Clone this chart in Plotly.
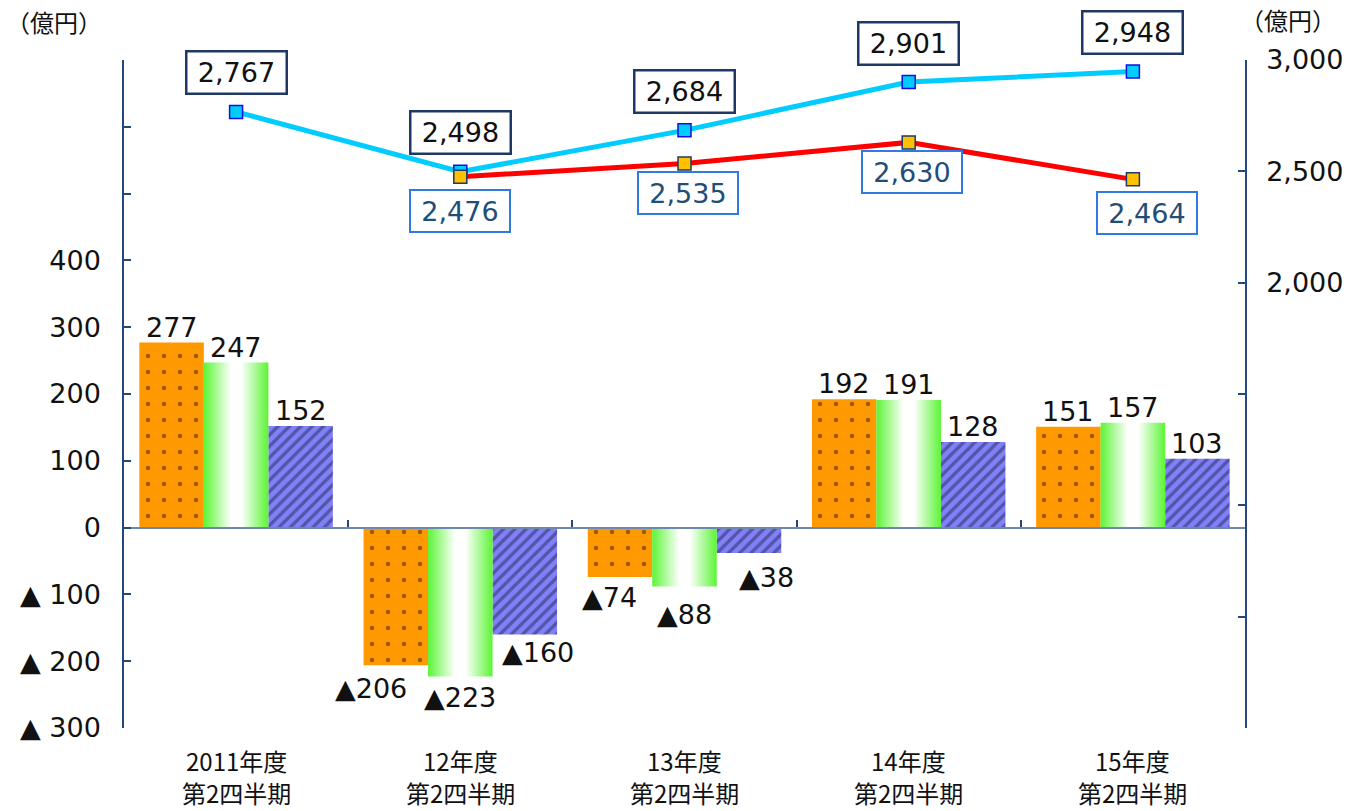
import plotly.graph_objects as go

# ---- data ----
cat_year = ["2011年度", "12年度", "13年度", "14年度", "15年度"]
cat_period = ["第2四半期", "第2四半期", "第2四半期", "第2四半期", "第2四半期"]
bar_orange = [277, -206, -74, 192, 151]
bar_green = [247, -223, -88, 191, 157]
bar_blue = [152, -160, -38, 128, 103]
line_cyan = [2767, 2498, 2684, 2901, 2948]
line_red = [None, 2476, 2535, 2630, 2464]

left_ticks = [-300, -200, -100, 0, 100, 200, 300, 400, 500, 600, 700]
left_ticktext = ["▲ 300", "▲ 200", "▲ 100", "0", "100", "200", "300", "400", "", "", ""]
right_ticks = [0, 500, 1000, 1500, 2000, 2500, 3000]
right_ticktext = ["", "", "", "", "2,000", "2,500", "3,000"]
unit_label = "（億円）"

# ---- style ----
NUM_FONT = "DejaVu Sans, Noto Sans CJK JP"
JP_FONT = "Noto Sans CJK JP, DejaVu Sans"
AXIS_COLOR = "#24487a"
W = 0.2877
xs = list(range(len(cat_year)))

fig = go.Figure()

# orange dotted bars
fig.add_trace(go.Bar(
    x=xs, y=bar_orange, width=W, offset=-1.5 * W,
    marker=dict(color="#ff9900", line=dict(width=0),
                pattern=dict(shape=".", size=16, solidity=0.06,
                             fgcolor="#2a1a05", bgcolor="#ff9900")),
    showlegend=False, hoverinfo="x+y"))

# blue hatched bars
fig.add_trace(go.Bar(
    x=xs, y=bar_blue, width=W, offset=0.5 * W,
    marker=dict(color="#8080f7", line=dict(width=0),
                pattern=dict(shape="/", size=8, solidity=0.4,
                             fgcolor="#26265a", bgcolor="#8080f7")),
    showlegend=False, hoverinfo="x+y"))

# green gradient bars (one filled polygon per value)
for i, v in enumerate(bar_green):
    fig.add_trace(go.Scatter(
        x=[i - 0.5 * W, i + 0.5 * W, i + 0.5 * W, i - 0.5 * W, i - 0.5 * W],
        y=[0, 0, v, v, 0],
        mode="lines", line=dict(width=0), fill="toself",
        fillcolor="#66ff33",
        fillgradient=dict(type="horizontal",
                          colorscale=[[0, "#5cf535"], [0.42, "#ffffff"],
                                      [0.58, "#ffffff"], [1, "#5cf535"]]),
        showlegend=False, hoverinfo="skip"))

# lines on right axis
fig.add_trace(go.Scatter(
    x=xs, y=line_cyan, yaxis="y2", mode="lines+markers",
    line=dict(color="#00ccff", width=5),
    marker=dict(symbol="square", size=13, color="#00ccff",
                line=dict(color="#1010e0", width=1.5)),
    showlegend=False))
fig.add_trace(go.Scatter(
    x=xs, y=line_red, yaxis="y2", mode="lines+markers",
    line=dict(color="#ff0000", width=5),
    marker=dict(symbol="square", size=13, color="#ffc000",
                line=dict(color="#1f3864", width=1.5)),
    showlegend=False, connectgaps=False))

# invisible trace to hold the zero-level x axis
fig.add_trace(go.Scatter(x=[None], y=[None], xaxis="x2", yaxis="y",
                         showlegend=False, hoverinfo="skip"))

annotations = []

# bar value labels
series = [(bar_orange, -W), (bar_green, 0.0), (bar_blue, W)]
neg_xshift = {(0, 1): -25, (1, 1): 0, (2, 1): 13, (0, 2): -11, (1, 2): 0, (2, 2): 17}
neg_yshift = {(0, 1): -6, (1, 1): -3, (2, 1): -1, (0, 2): -3, (1, 2): -11, (2, 2): -7}
for s, (vals, off) in enumerate(series):
    for i, v in enumerate(vals):
        if v >= 0:
            annotations.append(dict(
                x=i + off, y=v, xref="x", yref="y", text=str(v),
                showarrow=False, yanchor="bottom", yshift=-2,
                font=dict(family=NUM_FONT, size=27, color="#111111")))
        else:
            annotations.append(dict(
                x=i + off, y=v, xref="x", yref="y", text="▲" + str(-v),
                showarrow=False, yanchor="top",
                xshift=neg_xshift.get((s, i), 0), yshift=neg_yshift.get((s, i), 0),
                font=dict(family=NUM_FONT, size=27, color="#111111")))

# line value labels
for i, v in enumerate(line_cyan):
    annotations.append(dict(
        x=i, y=v, xref="x", yref="y2", text=f"{v:,}", showarrow=False,
        yshift=39, width=92, height=34, borderpad=3, borderwidth=2.5,
        bordercolor="#1f3864", bgcolor="#ffffff",
        font=dict(family=NUM_FONT, size=27, color="#111111")))
red_yshift = [0, -34, -29, -30, -34]
red_xshift = [0, 0, 3, 3, 14]
for i, v in enumerate(line_red):
    if v is None:
        continue
    annotations.append(dict(
        x=i, y=v, xref="x", yref="y2", text=f"{v:,}", showarrow=False,
        yshift=red_yshift[i], xshift=red_xshift[i], width=92, height=34,
        borderpad=3, borderwidth=2, bordercolor="#2f7ae5", bgcolor="#ffffff",
        font=dict(family=NUM_FONT, size=27, color="#1f4e79")))

# category labels (two lines each)
for i in xs:
    annotations.append(dict(x=i, y=-0.048, xref="x", yref="paper",
                            text=cat_year[i], showarrow=False,
                            xanchor="center", yanchor="middle",
                            font=dict(family=JP_FONT, size=24, color="#111111")))
    annotations.append(dict(x=i, y=-0.096, xref="x", yref="paper",
                            text=cat_period[i], showarrow=False,
                            xanchor="center", yanchor="middle",
                            font=dict(family=JP_FONT, size=24, color="#111111")))

# unit labels
annotations.append(dict(x=-0.062, y=1.057, xref="paper", yref="paper",
                        text=unit_label, showarrow=False,
                        xanchor="center", yanchor="middle",
                        font=dict(family=JP_FONT, size=24, color="#111111")))
annotations.append(dict(x=1.038, y=1.06, xref="paper", yref="paper",
                        text=unit_label, showarrow=False,
                        xanchor="center", yanchor="middle",
                        font=dict(family=JP_FONT, size=24, color="#111111")))

fig.update_layout(
    width=1357, height=811,
    margin=dict(l=124, r=112, t=60, b=83),
    paper_bgcolor="white", plot_bgcolor="white",
    barmode="overlay",
    showlegend=False,
    xaxis=dict(range=[-0.5, 4.5], tickvals=xs, showticklabels=False,
               showline=False, showgrid=False, zeroline=False, ticks=""),
    xaxis2=dict(range=[-0.5, 4.5], overlaying="x", anchor="free", position=0.3,
                side="bottom", showline=True, linecolor="#7088ad", linewidth=2,
                tickvals=[0.5, 1.5, 2.5, 3.5], ticks="inside", ticklen=7,
                tickcolor=AXIS_COLOR, tickwidth=1.5, showticklabels=False,
                showgrid=False, zeroline=False),
    yaxis=dict(range=[-300, 700], tickvals=left_ticks, ticktext=left_ticktext,
               showline=True, linecolor=AXIS_COLOR, linewidth=1.5,
               ticks="inside", ticklen=7, tickcolor=AXIS_COLOR, tickwidth=1.5,
               showgrid=False, zeroline=False, ticklabelstandoff=16,
               tickfont=dict(family=NUM_FONT, size=27, color="#111111")),
    yaxis2=dict(range=[0, 3000], overlaying="y", side="right",
                tickvals=right_ticks, ticktext=right_ticktext,
                showline=True, linecolor=AXIS_COLOR, linewidth=1.5,
                ticks="inside", ticklen=7, tickcolor=AXIS_COLOR, tickwidth=1.5,
                showgrid=False, zeroline=False, ticklabelstandoff=14,
                tickfont=dict(family=NUM_FONT, size=27, color="#111111")),
    annotations=annotations,
)

fig.write_html("out.html")
